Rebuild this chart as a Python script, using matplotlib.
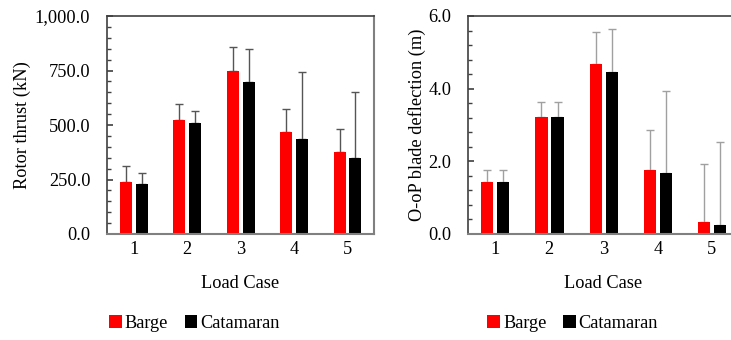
import numpy as np
import matplotlib
matplotlib.use("Agg")
import matplotlib.pyplot as plt
from matplotlib.patches import Patch
from matplotlib.ticker import MultipleLocator, FuncFormatter

plt.rcParams['font.family'] = ['Liberation Serif', 'DejaVu Serif']

cases = ['1', '2', '3', '4', '5']

# rotor thrust (kN), mean and upper deviation
thrust_barge = [238, 521, 749, 466, 376]
thrust_barge_err = [74, 75, 107, 106, 106]
thrust_cat = [231, 509, 697, 436, 350]
thrust_cat_err = [49, 54, 153, 307, 300]

# out-of-plane blade deflection (m)
defl_barge = [1.43, 3.23, 4.67, 1.76, 0.33]
defl_barge_err = [0.34, 0.39, 0.89, 1.09, 1.60]
defl_cat = [1.43, 3.23, 4.47, 1.69, 0.25]
defl_cat_err = [0.32, 0.39, 1.16, 2.24, 2.27]

RED = '#ff0000'
BLACK = '#000000'
FS = 13.2


def draw_panel(ax, barge, barge_err, cat, cat_err, ymax, major, minor, ylabel, errcolor):
    x = np.arange(len(cases))
    w = 0.225
    zeros = [0] * len(cases)
    ax.bar(x - 0.145, barge, w, color=RED, zorder=2)
    ax.bar(x + 0.152, cat, w, color=BLACK, zorder=2)
    ax.errorbar(x - 0.145, barge, yerr=[zeros, barge_err], fmt='none',
                ecolor=errcolor, elinewidth=1.0, capsize=2.8, capthick=1.0, zorder=1)
    ax.errorbar(x + 0.152, cat, yerr=[zeros, cat_err], fmt='none',
                ecolor=errcolor, elinewidth=1.0, capsize=2.8, capthick=1.0, zorder=1)

    ax.set_xlim(-0.5, len(cases) - 0.5)
    ax.set_ylim(0, ymax)
    ax.set_xticks(x)
    ax.set_xticklabels(cases)
    ax.yaxis.set_major_locator(MultipleLocator(major))
    ax.yaxis.set_minor_locator(MultipleLocator(minor))
    ax.yaxis.set_major_formatter(FuncFormatter(lambda v, p: f'{v:,.1f}'))

    ax.tick_params(axis='x', length=0, pad=5, labelsize=FS)
    ax.tick_params(axis='y', which='major', direction='in', length=4.5, width=1.2,
                   color='#404040', pad=12, labelsize=FS)
    ax.tick_params(axis='y', which='minor', direction='in', length=3, width=1.0,
                   color='#404040')

    for side in ['left', 'top']:
        ax.spines[side].set_color('#404040')
        ax.spines[side].set_linewidth(1.2)
    for side in ['bottom', 'right']:
        ax.spines[side].set_color('#808080')
        ax.spines[side].set_linewidth(1.5)

    ax.set_ylabel(ylabel, fontsize=FS)
    ax.set_xlabel('Load Case', fontsize=FS, labelpad=12)


fig = plt.figure(figsize=(7.31, 3.4), dpi=100)
ax1 = fig.add_axes([107 / 731, 106 / 340, 267 / 731, 218 / 340])
ax2 = fig.add_axes([468 / 731, 106 / 340, 271 / 731, 218 / 340])

draw_panel(ax1, thrust_barge, thrust_barge_err, thrust_cat, thrust_cat_err,
           1000, 250, 50, 'Rotor thrust (kN)', '#555555')
draw_panel(ax2, defl_barge, defl_barge_err, defl_cat, defl_cat_err,
           6.0, 2.0, 0.4, 'O-oP blade deflection (m)', '#a0a0a0')
ax1.yaxis.set_label_coords(-0.283, 0.5)
ax2.yaxis.set_label_coords(-0.155, 0.5)

handles = [Patch(facecolor=RED, label='Barge'), Patch(facecolor=BLACK, label='Catamaran')]
for ax, cx in [(ax1, 0.327), (ax2, 0.386)]:
    ax.legend(handles=handles, loc='center', bbox_to_anchor=(cx, -0.41), ncol=2,
              frameon=False, fontsize=FS, handlelength=0.7, handleheight=0.7,
              handletextpad=0.15, columnspacing=0.9, borderaxespad=0)

fig.savefig('out.png', dpi=100)
